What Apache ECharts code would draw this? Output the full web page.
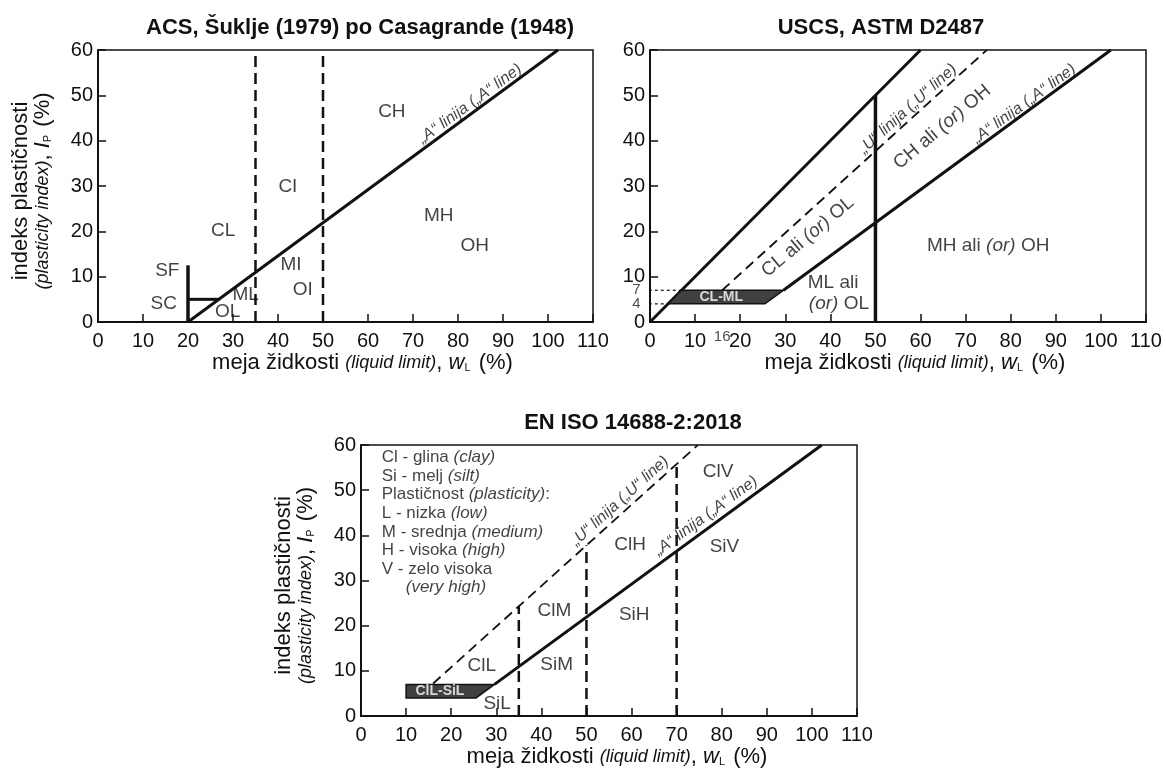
<!DOCTYPE html>
<html><head><meta charset="utf-8">
<script src="https://cdn.jsdelivr.net/npm/echarts@6/dist/echarts.min.js"></script>
<style>html,body{margin:0;padding:0;background:#fff}#c{width:1166px;height:774px}</style>
</head><body><div id="c"></div>
<script>
// ================= DATA =================
const chartTitles = ['ACS, Šuklje (1979) po Casagrande (1948)', 'USCS, ASTM D2487', 'EN ISO 14688-2:2018'];
const wlMin = 0, wlMax = 110, wlStep = 10;   // liquid limit axis
const ipMin = 0, ipMax = 60, ipStep = 10;    // plasticity index axis

// --- ACS, Šuklje (1979) ---
const acsALine = [[20, 0], [102.2, 60]];
const acsCut35 = [[35, 0], [35, 60]];
const acsCut50 = [[50, 0], [50, 60]];
const acsSFLine = [[20, 0], [20, 12.5]];
const acsSCLine = [[20, 5], [26.85, 5]];
const acsRegions = [['CH', 65.3, 46.3], ['CI', 42.2, 29.8], ['CL', 27.8, 20.2], ['MH', 75.7, 23.5], ['OH', 83.7, 16.9],
  ['MI', 42.9, 12.7], ['OI', 45.5, 7.2], ['ML', 32.8, 5.9], ['OL', 28.8, 2.3], ['SF', 15.4, 11.4], ['SC', 14.6, 4.1]];
const acsLineNotes = [['{i|„A“ linija („A“ line)}', 82.7, 48.1, 36]];

// --- USCS, ASTM D2487 ---
const uscsUpperLine = [[0, 0], [60, 60]];
const uscsULine = [[16, 7], [74.7, 60]];
const uscsALine = [[29.6, 7], [102.2, 60]];
const uscsCut50 = [[50, 0], [50, 50]];
const uscsCLML = [[4, 4], [7, 7], [29.6, 7], [25.5, 4]];
const uscsDot7 = [[-1.6, 7], [7, 7]];
const uscsDot4 = [[-1.6, 4], [4, 4]];
const uscsRegions = [['ML ali', 40.6, 8.7], ['{i|(or)} OL', 41.9, 4.0], ['MH ali {i|(or)} OH', 75, 16.8]];
const uscsLineNotes = [['{i|„U“ linija („U“ line)}', 57.2, 47, 42], ['{i|„A“ linija („A“ line)}', 83, 48.1, 36],
  ['{n|CL ali }{j|(or)}{n| OL}', 35, 18.8, 40], ['{n|CH ali }{j|(or)}{n| OH}', 64.8, 43, 40]];
const uscsSpecialTicks = { y: [7, 4], x: [16] };

// --- EN ISO 14688-2:2018 ---
const isoULine = [[16, 7.2], [74.7, 60]];
const isoALine = [[29.6, 7], [102.2, 60]];
const isoCut35 = [[35, 0], [35, 24.3]];
const isoCut50 = [[50, 0], [50, 37.8]];
const isoCut70 = [[70, 0], [70, 55.8]];
const isoCLSiL = [[10, 4], [10, 7], [29.6, 7], [25.5, 4]];
const isoRegions = [['ClL', 26.8, 11.1], ['SiL', 30.2, 2.7], ['SiM', 43.4, 11.3], ['ClM', 42.9, 23.3], ['SiH', 60.6, 22.5],
  ['ClH', 59.7, 38], ['ClV', 79.2, 54], ['SiV', 80.6, 37.5]];
const isoLineNotes = [['{i|„U“ linija („U“ line)}', 57.4, 47.6, 42], ['{i|„A“ linija („A“ line)}', 76.5, 44.3, 36]];
const isoKey = ['Cl - glina {i|(clay)}', 'Si - melj {i|(silt)}', 'Plastičnost {i|(plasticity)}:', 'L - nizka {i|(low)}',
  'M - srednja {i|(medium)}', 'H - visoka {i|(high)}', 'V - zelo visoka', '{ind|(very high)}'];
const isoKeyAnchor = [4.6, 59.3];

// ================= STYLE / BUILD =================
const FONT = '"Liberation Sans", Arial, Helvetica, sans-serif';
const INK = '#111';
const grids = [
  { left: 98, top: 50, width: 495, height: 272 },
  { left: 650, top: 50, width: 496, height: 272 },
  { left: 361, top: 445, width: 496, height: 271 }
];

const xName = 'meja židkosti {i|(liquid limit)}, {w|w}{s|L} (%)';
const yName = 'indeks plastičnosti\n{i|(plasticity index)}, {w|I}{s|P} (%)';
const nameRich = {
  i: { fontStyle: 'italic', fontSize: 18, fontFamily: FONT, color: INK },
  w: { fontStyle: 'italic', fontSize: 22, fontFamily: FONT, color: INK },
  s: { fontSize: 11, fontFamily: FONT, color: INK, padding: [10, 2, 0, 0] }
};

function xAxis(gi) {
  return {
    gridIndex: gi, type: 'value', min: wlMin, max: wlMax, interval: wlStep,
    axisLine: { show: true, onZero: false, lineStyle: { color: INK, width: 2 } },
    axisTick: { show: true, inside: true, length: 8, lineStyle: { color: INK, width: 1.5 } },
    axisLabel: { fontSize: 20, color: INK, fontFamily: FONT, margin: 9, showMinLabel: true, showMaxLabel: true },
    splitLine: { show: false },
    name: xName, nameLocation: 'middle', nameGap: 30,
    nameTextStyle: { fontSize: 22, color: INK, fontFamily: FONT, rich: nameRich, padding: [0, 0, 0, gi === 2 ? 16 : 34] }
  };
}
function yAxis(gi, withName) {
  const a = {
    gridIndex: gi, type: 'value', min: ipMin, max: ipMax, interval: ipStep,
    axisLine: { show: true, onZero: false, lineStyle: { color: INK, width: 2 } },
    axisTick: { show: true, inside: true, length: 8, lineStyle: { color: INK, width: 1.5 } },
    axisLabel: { fontSize: 20, color: INK, fontFamily: FONT, margin: 5, showMinLabel: true, showMaxLabel: true },
    splitLine: { show: false }
  };
  if (withName) {
    Object.assign(a, {
      name: yName, nameLocation: 'middle', nameGap: 44, nameRotate: 90,
      nameTextStyle: { fontSize: 22, color: INK, fontFamily: FONT, rich: nameRich, lineHeight: 22, align: 'center', padding: [0, 10, 0, 0] }
    });
  }
  return a;
}

function lineSeries(gi, data, width, type) {
  return {
    type: 'line', xAxisIndex: gi, yAxisIndex: gi, data: data, symbol: 'none', silent: true, clip: false,
    lineStyle: { color: INK, width: width, type: type || 'solid', cap: 'butt' }, z: 4, animation: false
  };
}
function polySeries(gi, pts) {
  return {
    type: 'custom', xAxisIndex: gi, yAxisIndex: gi, data: pts, silent: true, z: 5, animation: false,
    renderItem: function (params, api) {
      if (params.dataIndex !== 0) return null;
      return {
        type: 'polygon', shape: { points: pts.map(function (p) { return api.coord(p); }) },
        style: { fill: '#404040', stroke: INK, lineWidth: 1.5 }
      };
    }
  };
}
const labelRich = {
  i: { fontStyle: 'italic', fontSize: 16, fontFamily: FONT, color: INK },
  j: { fontStyle: 'italic', fontSize: 19, fontFamily: FONT, color: INK },
  n: { fontSize: 19, fontFamily: FONT, color: INK },
  ind: { fontStyle: 'italic', fontSize: 17, fontFamily: FONT, color: INK, padding: [0, 0, 0, 24] }
};
function labelSeries(gi, items, extra, richOverride) {
  return {
    type: 'scatter', xAxisIndex: gi, yAxisIndex: gi, silent: true, symbolSize: 1, z: 10, animation: false,
    itemStyle: { color: 'rgba(0,0,0,0)' },
    label: Object.assign({
      show: true, position: 'inside', formatter: '{b}', color: INK, fontSize: 19, fontFamily: FONT,
      rich: Object.assign({}, labelRich, richOverride || {})
    }, extra || {}),
    data: items.map(function (it) {
      const d = { name: it[0], value: [it[1], it[2]] };
      if (it[3] != null) d.label = { rotate: it[3] };
      return d;
    })
  };
}

const series = [
  // ACS
  lineSeries(0, acsCut35, 2.5, [11, 6]),
  lineSeries(0, acsCut50, 2.5, [11, 6]),
  lineSeries(0, acsALine, 3),
  lineSeries(0, acsSFLine, 3.5),
  lineSeries(0, acsSCLine, 3),
  labelSeries(0, acsRegions),
  labelSeries(0, acsLineNotes),
  // USCS
  lineSeries(1, uscsUpperLine, 3),
  lineSeries(1, uscsULine, 1.8, [10, 6]),
  lineSeries(1, uscsALine, 3),
  lineSeries(1, uscsCut50, 3.5),
  lineSeries(1, uscsDot7, 1.2, [3, 3]),
  lineSeries(1, uscsDot4, 1.2, [3, 3]),
  polySeries(1, uscsCLML),
  labelSeries(1, [['CL-ML', 15.8, 5.5]], { color: '#fff', fontWeight: 'bold', fontSize: 14 }),
  labelSeries(1, uscsRegions, null, { i: { fontStyle: 'italic', fontSize: 19, fontFamily: FONT, color: INK } }),
  labelSeries(1, uscsLineNotes),
  labelSeries(1, uscsSpecialTicks.y.map(function (v) { return [String(v), 0, v]; }),
    { position: 'left', distance: 9, fontSize: 15, color: '#222' }),
  labelSeries(1, uscsSpecialTicks.x.map(function (v) { return [String(v), v, 0]; }),
    { position: 'bottom', distance: 7, fontSize: 15, color: '#222' }),
  // ISO
  lineSeries(2, isoCut35, 2.5, [11, 6]),
  lineSeries(2, isoCut50, 2.5, [11, 6]),
  lineSeries(2, isoCut70, 2.5, [11, 6]),
  lineSeries(2, isoULine, 1.8, [10, 6]),
  lineSeries(2, isoALine, 3),
  polySeries(2, isoCLSiL),
  labelSeries(2, [['ClL-SiL', 17.5, 5.5]], { color: '#fff', fontWeight: 'bold', fontSize: 14 }),
  labelSeries(2, isoRegions),
  labelSeries(2, isoLineNotes),
  labelSeries(2, [[isoKey.join('\n'), isoKeyAnchor[0], isoKeyAnchor[1]]],
    { align: 'left', verticalAlign: 'top', fontSize: 17, lineHeight: 18.6 },
    { i: { fontStyle: 'italic', fontSize: 17, fontFamily: FONT, color: INK, lineHeight: 18.6 },
      ind: { fontStyle: 'italic', fontSize: 17, fontFamily: FONT, color: INK, lineHeight: 18.6, padding: [0, 0, 0, 24] } })
];

const titleStyle = { fontSize: 22, fontWeight: 'bold', color: INK, fontFamily: FONT };
const option = {
  backgroundColor: '#fff',
  animation: false,
  title: [
    { text: chartTitles[0], left: 355, top: 12, textAlign: 'center', textStyle: titleStyle },
    { text: chartTitles[1], left: 876, top: 12, textAlign: 'center', textStyle: titleStyle },
    { text: chartTitles[2], left: 628, top: 407, textAlign: 'center', textStyle: titleStyle }
  ],
  grid: grids.map(function (g) { return Object.assign({ show: true, borderColor: INK, borderWidth: 1.5, backgroundColor: 'transparent' }, g); }),
  xAxis: [xAxis(0), xAxis(1), xAxis(2)],
  yAxis: [yAxis(0, true), yAxis(1, false), yAxis(2, true)],
  series: series
};

const chart = echarts.init(document.getElementById('c'), null, { renderer: 'canvas' });
chart.setOption(option);
</script>
</body></html>
